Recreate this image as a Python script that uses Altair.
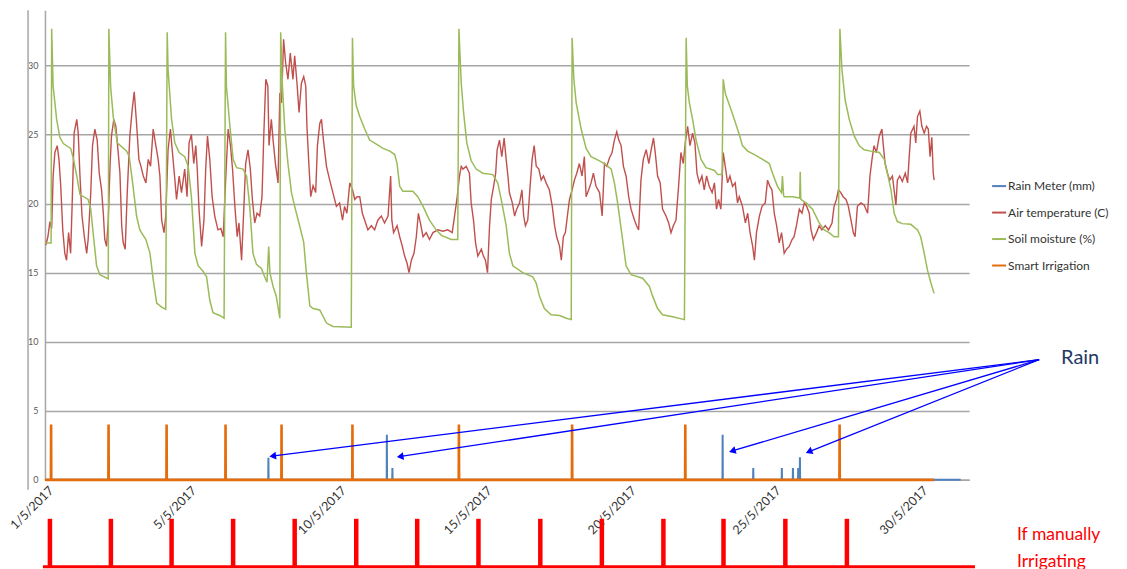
import math
import altair as alt
import pandas as pd

FONT = "Lato"
SERIES = ["Rain Meter (mm)", "Air temperature (C)", "Soil moisture (%)", "Smart Irrigation"]
COLORS = ["#4F81BD", "#C0504D", "#9BBB59", "#E46C0A"]

# (day since start of record, air temperature C)
air_temperature = [
    (0.03, 17.0), (0.10, 17.6), (0.17, 18.7), (0.23, 18.2), (0.28, 22.0), (0.34, 23.7), (0.42, 24.2), (0.48, 23.2),
    (0.54, 21.3), (0.61, 18.1), (0.68, 16.4), (0.74, 15.9), (0.81, 17.9), (0.88, 16.4), (0.93, 19.8), (1.00, 25.1),
    (1.09, 26.1), (1.14, 25.1), (1.20, 22.0), (1.27, 19.1), (1.35, 17.6), (1.43, 16.4), (1.48, 17.4), (1.57, 20.8),
    (1.63, 24.2), (1.71, 25.4), (1.79, 24.6), (1.86, 22.2), (1.94, 21.0), (2.00, 19.3), (2.05, 17.4), (2.11, 16.9),
    (2.17, 18.8), (2.23, 22.7), (2.28, 24.9), (2.36, 26.1), (2.43, 25.6), (2.51, 23.7), (2.57, 22.2), (2.63, 18.4),
    (2.68, 17.2), (2.75, 16.7), (2.82, 20.8), (2.91, 24.9), (2.99, 26.8), (3.06, 28.1), (3.14, 25.8), (3.22, 23.2),
    (3.29, 22.7), (3.37, 22.0), (3.46, 21.5), (3.54, 23.2), (3.62, 22.7), (3.71, 25.4), (3.80, 24.2), (3.88, 23.2),
    (3.94, 22.0), (4.00, 18.8), (4.08, 17.9), (4.14, 19.1), (4.22, 23.9), (4.30, 25.4), (4.37, 23.7), (4.45, 21.8),
    (4.51, 20.3), (4.60, 22.0), (4.68, 20.8), (4.79, 22.5), (4.87, 20.5), (4.94, 24.4), (5.02, 25.0), (5.10, 22.9),
    (5.17, 24.2), (5.22, 22.5), (5.28, 19.6), (5.37, 16.9), (5.45, 18.8), (5.51, 22.5), (5.57, 24.9), (5.65, 23.2),
    (5.73, 20.5), (5.82, 19.1), (5.93, 18.1), (6.03, 18.2), (6.11, 17.6), (6.20, 22.0), (6.28, 25.4), (6.36, 24.2),
    (6.43, 22.5), (6.51, 19.8), (6.59, 17.6), (6.65, 18.6), (6.74, 15.9), (6.82, 19.8), (6.88, 22.9), (6.96, 23.9),
    (7.04, 22.5), (7.11, 20.3), (7.19, 18.6), (7.27, 19.3), (7.36, 19.1), (7.44, 20.5), (7.50, 24.9), (7.57, 29.0),
    (7.64, 28.5), (7.68, 24.2), (7.76, 26.1), (7.82, 24.6), (7.90, 22.9), (7.99, 21.5), (8.05, 28.0), (8.11, 27.3),
    (8.18, 31.9), (8.25, 30.2), (8.33, 29.0), (8.41, 30.9), (8.50, 29.0), (8.56, 30.7), (8.64, 28.7), (8.71, 26.6),
    (8.79, 28.7), (8.87, 29.2), (8.94, 28.5), (8.98, 25.6), (9.05, 22.7), (9.11, 20.5), (9.19, 21.3), (9.28, 20.8),
    (9.34, 24.2), (9.42, 25.8), (9.48, 26.1), (9.53, 24.9), (9.65, 22.7), (9.76, 21.7), (9.87, 20.8), (9.99, 19.8),
    (10.10, 20.05), (10.20, 18.8), (10.27, 19.8), (10.35, 19.3), (10.45, 21.5), (10.54, 21.0), (10.62, 20.3),
    (10.70, 20.5), (10.79, 20.5), (10.88, 19.3), (10.96, 18.8), (11.07, 18.1), (11.19, 18.4), (11.30, 18.1),
    (11.41, 18.8), (11.53, 19.1), (11.64, 18.6), (11.76, 19.1), (11.85, 22.0), (11.89, 18.8), (11.95, 17.9),
    (12.07, 18.4), (12.16, 17.6), (12.25, 16.9), (12.33, 16.2), (12.41, 15.7), (12.48, 15.0), (12.56, 15.9),
    (12.65, 16.4), (12.73, 17.6), (12.80, 19.3), (12.87, 18.6), (12.96, 17.6), (13.07, 17.9), (13.18, 17.4),
    (13.30, 17.9), (13.47, 18.1), (13.64, 18.0), (13.81, 18.1), (13.96, 17.9), (14.04, 19.1), (14.12, 20.3),
    (14.21, 22.0), (14.27, 22.7), (14.33, 22.5), (14.44, 22.7), (14.55, 22.2), (14.61, 20.05), (14.69, 18.8),
    (14.76, 17.15), (14.84, 16.2), (14.96, 16.7), (15.03, 16.2), (15.10, 15.9), (15.17, 15.0), (15.24, 18.4),
    (15.30, 20.3), (15.38, 21.25), (15.45, 22.2), (15.50, 23.9), (15.58, 24.6), (15.66, 23.4), (15.74, 24.75),
    (15.81, 23.2), (15.87, 22.0), (15.92, 20.8), (16.02, 20.05), (16.10, 19.1), (16.17, 19.6), (16.27, 20.05),
    (16.35, 21.0), (16.41, 19.1), (16.47, 18.4), (16.55, 18.8), (16.63, 21.25), (16.70, 23.2), (16.77, 24.2),
    (16.84, 22.7), (16.93, 22.5), (17.01, 21.7), (17.09, 22.0), (17.18, 21.5), (17.29, 21.0), (17.39, 19.8),
    (17.47, 18.4), (17.54, 17.6), (17.64, 16.9), (17.70, 15.9), (17.77, 17.6), (17.84, 17.9), (17.92, 19.3),
    (17.98, 20.3), (18.07, 21.0), (18.15, 21.7), (18.23, 22.2), (18.32, 22.9), (18.41, 22.0), (18.49, 23.4),
    (18.55, 20.5), (18.64, 21.0), (18.72, 21.5), (18.80, 22.2), (18.89, 21.25), (19.01, 20.8), (19.10, 19.1),
    (19.18, 22.9), (19.26, 22.7), (19.35, 23.3), (19.44, 23.7), (19.52, 24.6), (19.60, 25.2), (19.67, 24.6),
    (19.75, 24.2), (19.83, 22.7), (19.92, 22.0), (20.01, 20.5), (20.09, 19.6), (20.21, 18.8), (20.28, 18.4),
    (20.35, 18.1), (20.43, 21.7), (20.51, 23.2), (20.61, 23.9), (20.70, 22.9), (20.78, 23.9), (20.86, 24.75),
    (20.92, 23.7), (21.00, 22.0), (21.09, 21.5), (21.17, 19.6), (21.29, 19.1), (21.38, 18.6), (21.46, 17.9),
    (21.54, 18.4), (21.63, 18.8), (21.72, 21.25), (21.80, 23.7), (21.88, 22.9), (21.95, 24.4), (22.03, 25.6),
    (22.11, 24.2), (22.20, 25.1), (22.28, 24.4), (22.35, 22.2), (22.43, 21.5), (22.52, 22.0), (22.60, 21.0),
    (22.68, 22.0), (22.77, 21.25), (22.87, 20.8), (22.95, 21.5), (23.02, 19.6), (23.09, 20.3), (23.17, 19.6),
    (23.25, 23.7), (23.32, 22.7), (23.40, 21.5), (23.48, 22.0), (23.57, 21.25), (23.66, 21.5), (23.74, 20.05),
    (23.80, 20.5), (23.91, 19.8), (24.01, 18.6), (24.09, 19.3), (24.17, 17.9), (24.26, 16.9), (24.32, 15.9),
    (24.39, 17.9), (24.49, 19.1), (24.58, 19.8), (24.69, 20.05), (24.77, 21.7), (24.85, 21.25), (24.92, 21.0),
    (25.00, 19.3), (25.08, 18.4), (25.17, 17.15), (25.25, 17.9), (25.34, 16.4), (25.42, 16.7), (25.51, 16.9),
    (25.61, 17.4), (25.68, 17.6), (25.76, 18.4), (25.86, 19.6), (25.95, 19.3), (26.03, 20.05), (26.11, 19.8),
    (26.20, 19.3), (26.26, 18.1), (26.34, 17.4), (26.45, 17.9), (26.54, 18.4), (26.63, 18.1), (26.75, 18.4),
    (26.86, 18.1), (26.98, 18.6), (27.05, 19.8), (27.13, 20.3), (27.20, 21.0), (27.28, 20.8), (27.36, 20.5),
    (27.46, 20.3), (27.54, 19.8), (27.63, 18.8), (27.71, 17.9), (27.77, 17.6), (27.85, 19.8), (27.97, 20.05),
    (28.08, 19.9), (28.20, 19.3), (28.28, 22.0), (28.35, 23.2), (28.42, 24.2), (28.50, 23.7), (28.60, 24.9),
    (28.69, 25.4), (28.73, 24.4), (28.80, 22.9), (28.88, 22.2), (28.96, 21.7), (29.05, 22.0), (29.17, 19.9),
    (29.22, 21.7), (29.30, 22.0), (29.39, 21.6), (29.49, 22.2), (29.57, 21.5), (29.62, 23.2), (29.68, 25.1),
    (29.79, 25.6), (29.85, 24.4), (29.91, 26.3), (29.99, 26.7), (30.06, 25.6), (30.14, 25.1), (30.22, 25.6),
    (30.28, 25.4), (30.34, 23.4), (30.40, 24.8), (30.45, 22.2), (30.48, 21.7),
]

# (day since start of record, soil moisture %)
soil_moisture = [
    (0.00, 17.15), (0.21, 17.15), (0.23, 32.66), (0.28, 28.5), (0.40, 26.1), (0.51, 24.8), (0.63, 24.35),
    (0.88, 24.0), (0.97, 23.3), (1.09, 22.0), (1.20, 20.65), (1.48, 20.3), (1.57, 19.6), (1.65, 17.9), (1.77, 15.5),
    (1.88, 14.85), (2.17, 14.55), (2.19, 32.66), (2.25, 28.5), (2.34, 26.3), (2.48, 24.4), (2.80, 23.8), (2.89, 23.4),
    (3.02, 21.25), (3.14, 19.1), (3.25, 18.1), (3.46, 17.4), (3.60, 16.4), (3.71, 14.5), (3.83, 12.8), (4.00, 12.5),
    (4.14, 12.35), (4.19, 32.4), (4.22, 29.7), (4.34, 26.1), (4.45, 24.4), (4.60, 23.7), (4.79, 23.4), (4.91, 22.7),
    (5.02, 20.5), (5.14, 16.4), (5.25, 15.5), (5.42, 15.1), (5.54, 14.7), (5.65, 13.0), (5.76, 12.1), (5.99, 11.9),
    (6.14, 11.7), (6.19, 32.4), (6.22, 28.5), (6.34, 25.6), (6.45, 23.2), (6.57, 22.6), (6.79, 22.5), (6.91, 22.0),
    (7.02, 19.8), (7.13, 16.4), (7.25, 15.6), (7.42, 15.3), (7.53, 14.7), (7.61, 14.3), (7.67, 16.9), (7.71, 15.0),
    (7.82, 14.0), (7.93, 13.3), (8.05, 11.7), (8.08, 32.4), (8.14, 28.5), (8.22, 25.4), (8.33, 22.9), (8.45, 20.8),
    (8.56, 19.8), (8.73, 18.4), (8.87, 17.2), (8.96, 15.0), (9.08, 12.6), (9.19, 12.4), (9.42, 12.3), (9.65, 11.35),
    (9.87, 11.1), (10.50, 11.05), (10.54, 32.0), (10.58, 28.5), (10.67, 27.1), (10.79, 26.3), (10.96, 25.4),
    (11.13, 24.6), (11.36, 24.3), (11.59, 24.0), (11.82, 23.8), (11.99, 23.55), (12.07, 22.9), (12.16, 21.25),
    (12.27, 20.9), (12.61, 20.9), (12.78, 20.5), (12.96, 19.8), (13.18, 18.8), (13.41, 18.1), (13.59, 17.7),
    (13.93, 17.4), (14.15, 17.4), (14.19, 32.66), (14.27, 28.7), (14.35, 26.6), (14.46, 24.4), (14.61, 23.1),
    (14.78, 22.5), (15.01, 22.2), (15.35, 22.1), (15.52, 21.5), (15.64, 20.3), (15.81, 18.4), (15.92, 16.4),
    (16.04, 15.5), (16.38, 15.0), (16.72, 14.7), (16.84, 14.25), (16.95, 13.3), (17.12, 12.4), (17.35, 11.95),
    (17.64, 11.9), (17.87, 11.7), (18.04, 11.6), (18.07, 32.0), (18.13, 29.0), (18.21, 27.3), (18.38, 25.4),
    (18.55, 24.0), (18.72, 23.4), (19.01, 23.1), (19.24, 22.8), (19.41, 22.5), (19.52, 21.5), (19.63, 20.05),
    (19.80, 17.4), (19.92, 15.5), (20.09, 14.85), (20.49, 14.6), (20.72, 14.0), (20.83, 13.3), (21.00, 12.4),
    (21.17, 11.95), (21.52, 11.8), (21.92, 11.6), (21.98, 32.0), (22.02, 28.5), (22.09, 27.3), (22.20, 26.1),
    (22.32, 24.6), (22.49, 23.2), (22.66, 22.6), (22.95, 22.4), (23.06, 22.1), (23.21, 22.1), (23.25, 29.0),
    (23.32, 28.0), (23.40, 27.5), (23.52, 26.8), (23.63, 26.1), (23.80, 25.0), (23.91, 24.2), (24.09, 23.8),
    (24.32, 23.55), (24.60, 23.2), (24.83, 22.9), (24.94, 22.2), (25.11, 21.25), (25.25, 20.8), (25.28, 22.0),
    (25.32, 20.6), (25.34, 20.5), (25.63, 20.5), (25.87, 20.4), (25.89, 22.3), (25.91, 20.3), (26.09, 20.05),
    (26.31, 19.6), (26.54, 18.6), (26.71, 18.1), (26.88, 17.9), (27.05, 17.6), (27.20, 17.6), (27.25, 32.66),
    (27.32, 29.7), (27.43, 27.5), (27.57, 26.1), (27.74, 24.9), (27.91, 24.2), (28.08, 23.9), (28.31, 23.8),
    (28.60, 23.7), (28.77, 23.2), (28.88, 22.2), (29.00, 21.0), (29.11, 19.3), (29.22, 18.7), (29.39, 18.55),
    (29.68, 18.5), (29.91, 18.1), (30.02, 17.6), (30.14, 16.4), (30.25, 15.2), (30.37, 14.25), (30.48, 13.5),
]

rain_days = [7.66, 11.72, 11.91, 23.23, 24.28, 25.26, 25.64, 25.82, 25.88]
rain_mm = [1.6, 3.26, 0.85, 3.26, 0.85, 0.85, 0.85, 0.85, 1.64]
rain_last_day = 31.39

irrigation_days = [0.21, 2.18, 4.17, 6.19, 8.11, 10.54, 14.19, 18.07, 21.95, 27.24]
irrigation_level = 4.0
irrigation_last_day = 30.48

manual_days = [0.17, 2.26, 4.34, 6.45, 8.56, 10.67, 12.76, 14.86, 16.98, 19.09, 21.20, 23.26, 25.38, 27.49]

tick_days = [0.06, 4.96, 10.09, 15.09, 20.03, 24.99, 30.03]
tick_labels = ["1/5/2017", "5/5/2017", "10/5/2017", "15/5/2017", "20/5/2017", "25/5/2017", "30/5/2017"]
y_ticks = [0, 5, 10, 15, 20, 25, 30]

rain_note_at = (34.83, 8.84)
arrow_origin = (34.08, 8.70)
arrow_tips = [(7.67, 1.69), (12.04, 1.64), (23.43, 2.01), (26.06, 1.93)]

X_MIN, X_MAX = 0.0, 31.68
Y_MAX = 34.0
W, H = 925, 470
GRID = "#A6A6A6"


def spikes(days, heights, end, eps=0.006):
    rows = [(0.0, 0.0)]
    for d, h in zip(days, heights):
        rows += [(d - eps, 0.0), (d, h), (d + eps, 0.0)]
    rows.append((end, 0.0))
    return rows


def frame(rows, name):
    df = pd.DataFrame(rows, columns=["t", "v"])
    df["series"] = name
    return df


rain_df = frame(spikes(rain_days, rain_mm, rain_last_day), SERIES[0])
air_df = frame(air_temperature, SERIES[1])
soil_df = frame(soil_moisture, SERIES[2])
irr_df = frame(spikes(irrigation_days, [irrigation_level] * len(irrigation_days), irrigation_last_day), SERIES[3])

label_expr = "''"
for d, lab in reversed(list(zip(tick_days, tick_labels))):
    label_expr = f"abs(datum.value - {d}) < 0.01 ? '{lab}' : {label_expr}"

xs = alt.Scale(domain=[X_MIN, X_MAX], nice=False, zero=False)
ys = alt.Scale(domain=[0, Y_MAX], nice=False, zero=True)
x_axis = alt.Axis(values=tick_days, labelExpr=label_expr, labelAngle=315, labelAlign="right",
                  labelBaseline="top", labelFont=FONT, labelFontSize=12.5, labelColor="#333333",
                  labelPadding=4, ticks=False, tickSize=0, grid=False, domain=True, domainColor=GRID,
                  domainWidth=1.5, title=None, labelOverlap=False, labelFlush=False, labelBound=False)
y_axis = alt.Axis(values=y_ticks, grid=True, gridColor=GRID, gridWidth=1.5, ticks=False, tickSize=0,
                  domain=True, domainColor=GRID, domainWidth=1.5, labelFont=FONT, labelFontSize=9,
                  labelColor="#595959", labelPadding=7, title=None)


def X(field="t"):
    return alt.X(f"{field}:Q", scale=xs, axis=x_axis)


def Y(field="v"):
    return alt.Y(f"{field}:Q", scale=ys, axis=y_axis)


legend = alt.Legend(title=None, orient="none", legendX=947, legendY=168, symbolType="stroke",
                    symbolSize=196, symbolStrokeWidth=2, labelFont=FONT, labelFontSize=12,
                    labelColor="#333333", rowPadding=12.5, labelOffset=1, labelLimit=200)
color = alt.Color("series:N", scale=alt.Scale(domain=SERIES, range=COLORS), legend=legend)

outer_line = alt.Chart(pd.DataFrame({"t": [-0.58], "v": [-0.72], "v2": [Y_MAX]})).mark_rule(
    color=GRID, strokeWidth=1.5).encode(x=X(), y=Y(), y2="v2:Q")

rain_line = alt.Chart(rain_df).mark_line(strokeWidth=2).encode(x=X(), y=Y(), color=color)
air_line = alt.Chart(air_df).mark_line(strokeWidth=1.4).encode(x=X(), y=Y(), color=color)
soil_line = alt.Chart(soil_df).mark_line(strokeWidth=1.5).encode(x=X(), y=Y(), color=color)
irr_line = alt.Chart(irr_df).mark_line(strokeWidth=2.6).encode(x=X(), y=Y(), color=color)

# arrows from the "Rain" note to the rain events
kx = W / (X_MAX - X_MIN)
ky = H / Y_MAX
arrow_rows = []
head_rows = []
for tt, tv in arrow_tips:
    dx = (tt - arrow_origin[0]) * kx
    dy = -(tv - arrow_origin[1]) * ky
    L = math.hypot(dx, dy)
    ux, uy = dx / L, dy / L
    ang = math.degrees(math.atan2(ux, -uy)) % 360
    arrow_rows.append({"t": arrow_origin[0], "v": arrow_origin[1], "t2": tt - 3 * ux / kx, "v2": tv + 3 * uy / ky})
    head_rows.append({"t": tt - 4 * ux / kx, "v": tv + 4 * uy / ky, "a": ang})

arrows = alt.Chart(pd.DataFrame(arrow_rows)).mark_rule(color="#0000FF", strokeWidth=1.3).encode(
    x=X(), y=Y(), x2="t2:Q", y2="v2:Q")
heads = alt.Chart(pd.DataFrame(head_rows)).mark_point(shape="triangle-up", filled=True, size=60,
                                                      color="#0000FF", opacity=1).encode(
    x=X(), y=Y(), angle=alt.Angle("a:Q", scale=None))
rain_note = alt.Chart(pd.DataFrame({"t": [rain_note_at[0]], "v": [rain_note_at[1]], "label": ["Rain"]})).mark_text(
    align="left", baseline="middle", font=FONT, fontSize=20, color="#1F3864").encode(
    x=X(), y=Y(), text="label:N")

main = alt.layer(outer_line, rain_line, air_line, soil_line, irr_line, arrows, heads, rain_note)

# "if manually irrigating" strip below the axis
ms = alt.Scale(domain=[0, 1], range=[557, 509])
manual_base = alt.Chart(pd.DataFrame({"t": [-0.07], "t2": [31.88], "m": [0]})).mark_rule(
    color="#FF0000", strokeWidth=3).encode(x=X(), x2="t2:Q", y=alt.Y("m:Q", scale=ms, axis=None))
manual_bars = alt.Chart(pd.DataFrame({"t": manual_days, "m": [1] * len(manual_days), "m0": [0] * len(manual_days)})).mark_rule(
    color="#FF0000", strokeWidth=4.5).encode(x=X(), y=alt.Y("m:Q", scale=ms, axis=None), y2="m0:Q")
manual_text = alt.Chart(pd.DataFrame({"t": [33.32, 33.32], "m": [0.667, 0.104],
                                      "label": ["If manually", "Irrigating"]})).mark_text(
    align="left", baseline="middle", font=FONT, fontSize=17.5, color="#FF0000").encode(
    x=X(), y=alt.Y("m:Q", scale=ms, axis=None), text="label:N")
manual = alt.layer(manual_base, manual_bars, manual_text)

chart = alt.layer(main, manual).resolve_scale(y="independent").properties(
    width=W, height=H,
    autosize=alt.AutoSizeParams(type="none"),
    padding={"left": 37, "top": 2, "right": 150, "bottom": 90},
).configure_view(stroke=None)

chart.save("out.html", embed_options={"renderer": "svg", "actions": False})
